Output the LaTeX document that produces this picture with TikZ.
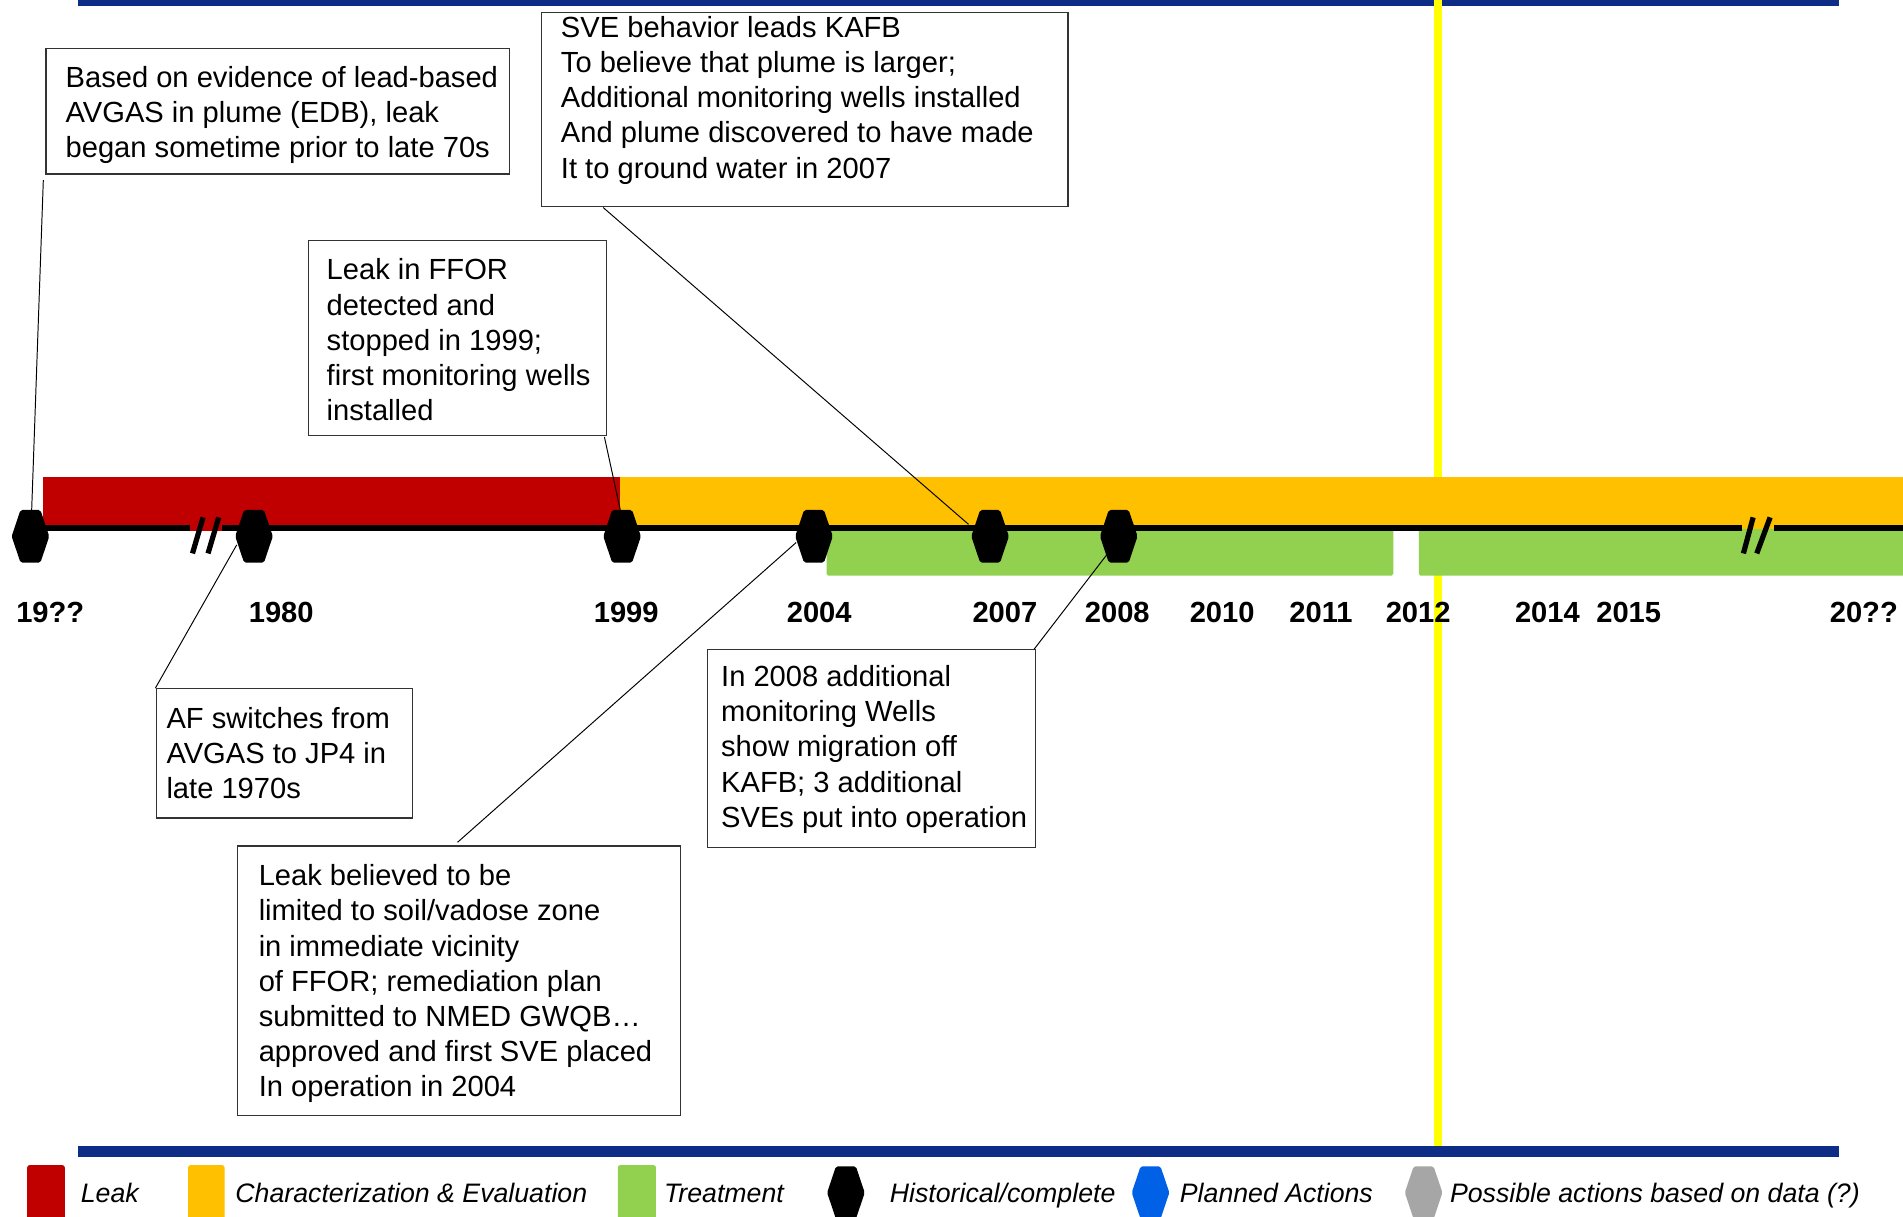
\documentclass[tikz,border=0pt]{standalone}
\usepackage{fontspec}
\setmainfont{Liberation Sans}
\usetikzlibrary{calc}
\definecolor{navy}{RGB}{13,45,135}
\definecolor{leakred}{RGB}{192,0,0}
\definecolor{charorange}{RGB}{255,192,0}
\definecolor{treatgreen}{RGB}{146,208,80}
\definecolor{planblue}{RGB}{0,97,230}
\definecolor{possgray}{RGB}{166,166,166}
\definecolor{markyellow}{RGB}{255,255,0}
\newcommand\hexfill[2]{\fill[#2,rounded corners=1.5pt] ($(#1)+(-8.2,-21.7)$) -- ($(#1)+(8.2,-21.7)$) -- ($(#1)+(15.5,0)$) -- ($(#1)+(8.2,21.7)$) -- ($(#1)+(-8.2,21.7)$) -- ($(#1)+(-15.5,0)$) -- cycle;}
\tikzset{
  boxframe/.style={draw=black!80,line width=1pt,inner sep=0pt,outer sep=0pt,anchor=north west},
  boxtext/.style={align=left,inner sep=0pt,anchor=west,font=\fontsize{24}{29}\selectfont},
  yearlbl/.style={inner sep=0pt,font=\bfseries\fontsize{24}{29}\selectfont},
  leglbl/.style={inner sep=0pt,anchor=base west,font=\itshape\fontsize{22}{26}\selectfont},
  hexnode/.style={minimum width=31pt,minimum height=43.4pt,inner sep=0pt,outer sep=0pt},
  callline/.style={draw=black,line width=0.8pt},
  axisline/.style={line width=4.5pt,black},
  breakmark/.style={line width=4.3pt,black},
}
\begin{document}
\begin{tikzpicture}[x=1pt,y=-1pt]
\useasboundingbox (0,0) rectangle (1568,1002);
\fill[white] (0,0) rectangle (1568,1002);
% top band
\fill[navy] (64,-4.5) rectangle (1515,4.7);
% yellow marker
\fill[markyellow] (1181.7,0) rectangle (1188.3,946);
% bars
\fill[leakred] (35.7,392.8) rectangle (511,437.5);
\fill[charorange] (511,392.8) rectangle (1568,436);
\fill[treatgreen,rounded corners=1.5pt] (681,436) rectangle (1148,474.3);
\fill[treatgreen,rounded corners=1.5pt] (1169,436) rectangle (1575,474.3);
% axis line with breaks
\draw[axisline] (25,435.2) -- (156.3,435.2);
\draw[axisline] (182.8,435.2) -- (1435,435.2);
\draw[axisline] (1462,435.2) -- (1568,435.2);
\draw[breakmark] (158.6,456) -- (167.3,426.3);
\draw[breakmark] (171.4,456) -- (180.2,426.3);
\draw[breakmark] (1436.5,456) -- (1444.5,426.3);
\draw[breakmark] (1447.5,456) -- (1458.5,426.3);
% bottom band
\fill[navy] (64,944.3) rectangle (1515,953.6);
% milestone hexagons
\node[hexnode] (h19) at (25.1,441.9) {};
\node[hexnode] (h1980) at (209.3,441.9) {};
\node[hexnode] (h1999) at (512.6,441.9) {};
\node[hexnode] (h2004) at (670.7,441.9) {};
\node[hexnode] (h2007) at (815.8,441.9) {};
\node[hexnode] (h2008) at (921.8,441.9) {};
\hexfill{h19}{black}
\hexfill{h1980}{black}
\hexfill{h1999}{black}
\hexfill{h2004}{black}
\hexfill{h2007}{black}
\hexfill{h2008}{black}
% year labels
\node[yearlbl] (y19) at (41.4,505) {19??};
\node[yearlbl] (y1980) at (231.7,505) {1980};
\node[yearlbl] (y1999) at (516,505) {1999};
\node[yearlbl] (y2004) at (675,505) {2004};
\node[yearlbl] (y2007) at (828,505) {2007};
\node[yearlbl] (y2008) at (920.6,505) {2008};
\node[yearlbl] (y2010) at (1007,505) {2010};
\node[yearlbl] (y2011) at (1088.5,505) {2011};
\node[yearlbl] (y2012) at (1168.5,505) {2012};
\node[yearlbl] (y2014) at (1275,505) {2014};
\node[yearlbl] (y2015) at (1342,505) {2015};
\node[yearlbl] (y20) at (1535.7,505) {20??};
% callout boxes
\node[boxframe,minimum width=382pt,minimum height=103.4pt] (b1) at (37.9,40) {};
\node[boxtext] (t1) at ($(b1.west)+(16,3)$) {Based on evidence of lead-based\\AVGAS in plume (EDB), leak\\began sometime prior to late 70s};
\node[boxframe,minimum width=434pt,minimum height=160pt] (b2) at (446,10) {};
\node[boxtext] (t2) at ($(b2.west)+(16,-7.5)$) {SVE behavior leads KAFB\\To believe that plume is larger;\\Additional monitoring wells installed\\And plume discovered to have made\\It to ground water in 2007};
\node[boxframe,minimum width=246pt,minimum height=161pt] (b3) at (254,198) {};
\node[boxtext] (t3) at ($(b3.west)+(15,1.5)$) {Leak in FFOR\\detected and\\stopped in 1999;\\first monitoring wells\\installed};
\node[boxframe,minimum width=211pt,minimum height=107pt] (b4) at (129,567) {};
\node[boxtext] (t4) at ($(b4.west)+(8,0)$) {AF switches from\\AVGAS to JP4 in\\late 1970s};
\node[boxframe,minimum width=365pt,minimum height=222pt] (b5) at (196,697) {};
\node[boxtext] (t5) at ($(b5.west)+(17,2.5)$) {Leak believed to be\\limited to soil/vadose zone\\in immediate vicinity\\of FFOR; remediation plan\\submitted to NMED GWQB\ldots\\approved and first SVE placed\\In operation in 2004};
\node[boxframe,minimum width=270pt,minimum height=163pt] (b6) at (583,535) {};
\node[boxtext] (t6) at ($(b6.west)+(11,1)$) {In 2008 additional\\monitoring Wells\\show migration off\\KAFB; 3 additional\\SVEs put into operation};
% connectors
\draw[callline] ($(b1.south west)+(-2.2,5)$) -- ($(h19.north)+(1,0)$);
\draw[callline] ($(b2.south west)+(51,1)$) -- ($(h2007.center)+(-17.8,-9.9)$);
\draw[callline] ($(b3.south east)+(-2,1)$) -- ($(h1999.north)+(-1.5,0)$);
\draw[callline] ($(b4.north west)+(-1,0)$) -- ($(h1980.center)+(-14.3,7.1)$);
\draw[callline] ($(b5.north)+(-1.5,-3)$) -- ($(h2004.center)+(-14.7,5.1)$);
\draw[callline] ($(b6.north east)+(-1,0)$) -- ($(h2008.center)+(-9.8,15.1)$);
% legend
\fill[leakred,rounded corners=2pt] (22.4,960) rectangle (53.4,1006);
\node[leglbl] (lleak) at (66.4,991) {Leak};
\fill[charorange,rounded corners=2pt] (155,960) rectangle (185,1006);
\node[leglbl] (lchar) at (193.8,991) {Characterization \& Evaluation};
\fill[treatgreen,rounded corners=2pt] (509,960) rectangle (540.5,1006);
\node[leglbl] (ltreat) at (547,991) {Treatment};
\node[hexnode] (lhhist) at (697,982.7) {};
\hexfill{lhhist}{black}
\node[leglbl] (lhist) at (733,991) {Historical/complete};
\node[hexnode] (lhplan) at (948,982.7) {};
\hexfill{lhplan}{planblue}
\node[leglbl] (lplan) at (972,991) {Planned Actions};
\node[hexnode] (lhposs) at (1173,982.7) {};
\hexfill{lhposs}{possgray}
\node[leglbl] (lposs) at (1194.6,991) {Possible actions based on data (?)};
\end{tikzpicture}
\end{document}
